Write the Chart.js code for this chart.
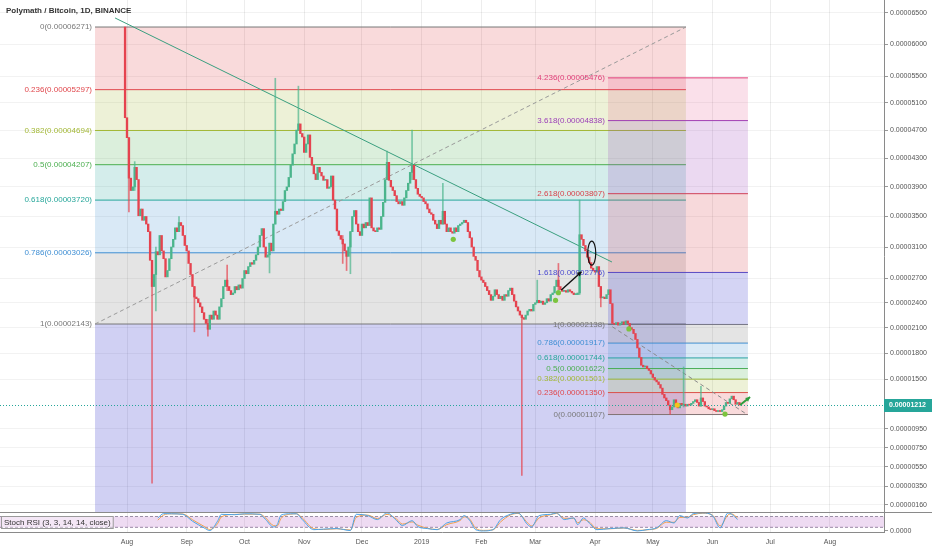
<!DOCTYPE html>
<html lang="en">
<head>
<meta charset="UTF-8">
<title>Polymath / Bitcoin, 1D, BINANCE</title>
<script src="https://cdn.jsdelivr.net/npm/chart.js"></script>
<style>
  html, body { margin: 0; padding: 0; background: #fff; }
</style>
</head>
<body>
<canvas id="chart" width="932" height="550"></canvas>
<script>
// prices are in satoshi (1e-8 BTC), days are counted from 2018-08-01
const firstDay = -1;
const firstOpen = 6271;
const closes = [
  4880, 4590, 4020, 3850, 3900, 4170, 4000, 3510, 3600, 3450,   // -1..8
  3500, 3400, 3300, 2930, 2600, 2750, 3040, 3000, 3250, 3050,   // 9..18
  2950, 2720, 2800, 2950, 3100, 3200, 3350, 3300, 3420, 3380,   // 19..28
  3250, 3120, 3050, 2890, 2750, 2600, 2470, 2450, 2400, 2350,   // 29..38
  2280, 2200, 2150, 2080, 2250, 2200, 2300, 2250, 2200, 2350,   // 39..48
  2450, 2600, 2680, 2600, 2550, 2500, 2520, 2600, 2560, 2620,   // 49..58
  2580, 2700, 2800, 2760, 2850, 2900, 2880, 2930, 3000, 3100,   // 59..68
  3250, 3340, 3100, 2970, 3000, 3150, 3050, 3400, 3570, 3530,   // 69..78
  3600, 3580, 3700, 3850, 3900, 4030, 4200, 4360, 4500, 4700,   // 79..88
  4790, 4650, 4600, 4380, 4500, 4630, 4310, 4200, 4080, 4000,   // 89..98
  4170, 4100, 4050, 3990, 4000, 3880, 3900, 4050, 3720, 3600,   // 99..108
  3310, 3250, 3200, 3140, 3050, 2980, 3100, 3300, 3500, 3580,   // 109..118
  3400, 3300, 3250, 3400, 3350, 3420, 3380, 3750, 3350, 3310,   // 119..128
  3300, 3350, 3330, 3500, 3690, 4000, 4240, 3990, 3900, 3850,   // 129..138
  3780, 3700, 3670, 3700, 3650, 3750, 3850, 3950, 4100, 4200,   // 139..148
  4000, 3880, 3800, 3770, 3750, 3700, 3670, 3600, 3550, 3530,   // 149..158
  3450, 3400, 3340, 3450, 3400, 3570, 3400, 3300, 3350, 3300,   // 159..168
  3280, 3350, 3300, 3380, 3400, 3420, 3450, 3420, 3300, 3220,   // 169..178
  3100, 2980, 2930, 2800, 2720, 2680, 2650, 2600, 2550, 2500,   // 179..188
  2430, 2480, 2560, 2500, 2450, 2480, 2430, 2500, 2480, 2550,   // 189..198
  2580, 2500, 2420, 2350, 2300, 2250, 2220, 2200, 2250, 2300,   // 199..208
  2320, 2300, 2380, 2400, 2430, 2400, 2420, 2380, 2400, 2450,   // 209..218
  2420, 2500, 2520, 2600, 2680, 2600, 2560, 2540, 2550, 2530,   // 219..228
  2560, 2540, 2520, 2500, 2500, 2520, 3260, 3200, 3120, 3050,   // 229..238
  2970, 2900, 2830, 2800, 2780, 2850, 2600, 2460, 2470, 2450,   // 239..248
  2500, 2560, 2390, 2150, 2140, 2160, 2130, 2150, 2170, 2140,   // 249..258
  2180, 2150, 2100, 2080, 2030, 1960, 1860, 1750, 1660, 1640,   // 259..268
  1650, 1620, 1600, 1560, 1520, 1490, 1470, 1440, 1400, 1330,   // 269..278
  1290, 1260, 1210, 1160, 1190, 1270, 1200, 1180, 1230, 1210,   // 279..288
  1220, 1200, 1220, 1210, 1230, 1250, 1270, 1240, 1200, 1290,   // 289..298
  1250, 1200, 1190, 1170, 1160, 1170, 1150, 1140, 1150, 1140,   // 299..308
  1160, 1200, 1240, 1230, 1280, 1310, 1270, 1220, 1240, 1212    // 309..318
];
// [day, high, low] for the wicks that show
const wicks = [
  [1, 4590, 3560], [4, 4250, 3850], [13, 2930, 380], [15, 3100, 2300],
  [27, 3500, 3300], [35, 2600, 2050], [42, 2200, 2000], [52, 2870, 2550],
  [74, 3150, 2770], [77, 5470, 3400], [89, 5350, 4700], [112, 3250, 2890],
  [114, 3050, 2800], [116, 3300, 2760], [135, 4400, 4000], [148, 4700, 4000],
  [164, 3950, 3400], [205, 2250, 460], [213, 2680, 2400], [224, 2890, 2560],
  [235, 3720, 2500], [246, 2600, 2350], [282, 1200, 1107], [289, 1640, 1190],
  [298, 1420, 1200]
];
const lastPrice = 1212;

const monthDays = [0, 31, 61, 92, 122, 153, 184, 212, 243, 273, 304, 334, 365];
const monthLabels = ['Aug', 'Sep', 'Oct', 'Nov', 'Dec', '2019', 'Feb', 'Mar', 'Apr', 'May', 'Jun', 'Jul', 'Aug'];
const priceTicks = [6500, 6000, 5500, 5100, 4700, 4300, 3900, 3500, 3100, 2700, 2400, 2100, 1800, 1500, 950, 750, 550, 350, 160];

const retrLevels = [0, 0.236, 0.382, 0.5, 0.618, 0.786, 1];
const retrPrices = [6271, 5297, 4694, 4207, 3720, 3026, 2143];
const extLevels = [0, 0.236, 0.382, 0.5, 0.618, 0.786, 1, 1.618, 2.618, 3.618, 4.236];
const extPrices = [1107, 1350, 1501, 1622, 1744, 1917, 2138, 2776, 3807, 4838, 5476];

const stochDays = [16, 19, 23, 29, 34, 40, 43, 47, 49, 56, 61, 69, 72, 76, 78, 80, 85, 88, 91, 97,
  102, 109, 116, 119, 125, 130, 135, 140, 143, 148, 151, 156, 161, 166, 173, 175, 178, 181, 185, 190,
  194, 199, 203, 208, 210, 214, 220, 223, 227, 232, 234, 237, 240, 244, 251, 258, 265, 270, 275, 280,
  284, 287, 291, 294, 299, 304, 308, 312, 314, 317];
const stochK = [72, 96, 95, 92, 54, 17, 2, 54, 92, 90, 95, 92, 63, 22, 35, 88, 95, 95, 63, 7,
  10, 13, 2, 92, 85, 63, 100, 57, 30, 57, 24, 13, 7, 44, 63, 85, 57, 7, 0, 7,
  63, 92, 100, 35, 22, 85, 92, 100, 63, 72, 35, 72, 44, 7, 13, 17, 0, 7, 17, 57,
  44, 85, 72, 96, 100, 85, 17, 100, 92, 63];
const stochD = [60, 88, 95, 94, 62, 25, 8, 40, 78, 92, 93, 93, 72, 30, 28, 70, 93, 95, 72, 12,
  8, 12, 5, 75, 88, 68, 92, 65, 38, 50, 32, 15, 8, 35, 58, 78, 65, 15, 3, 6,
  50, 88, 97, 45, 28, 72, 90, 97, 70, 70, 45, 62, 50, 12, 12, 16, 3, 6, 14, 48,
  48, 75, 76, 90, 98, 88, 28, 88, 94, 72];

// drawing spans (days) and anchor points
const retrSpan = [-16.6, 290.2];
const extSpan = [249.7, 322.4];
const trendLine = [[-6.2, 6417], [251.8, 2908]];
const extTrend = [[252, 2110], [322, 1107]];
const blackArrow = [[225.5, 2557], [236, 2786]];
const greenArrow = [[318.3, 1212], [323.5, 1300]];
const ellipseAt = [241.3, 3022];
const markers = [[169.4, 3200, '#7cc43e'], [224, 2524, '#7cc43e'], [222.5, 2430, '#7cc43e'],
  [260.6, 2084, '#7cc43e'], [285.7, 1212, '#f5c518'], [310.5, 1112, '#7cc43e']];

const xMin = -65.94, xMax = 393.04;
const yMin = 90, yMax = 6710;
const OFFSET = 10000;

const GREEN = '#4bb58c', RED = '#e5434f';
const lvlColor = {
  0: '#787878', 0.236: '#e0474c', 0.382: '#a3b837', 0.5: '#4caf50', 0.618: '#26a69a',
  0.786: '#3f8fd4', 1: '#787878', 1.618: '#4b4bd0', 2.618: '#d8434a', 3.618: '#9c40b8', 4.236: '#e0407a'
};

const fmt = v => (v / 1e8).toFixed(8);
const hexA = (hex, a) => {
  const n = parseInt(hex.slice(1), 16);
  return `rgba(${n >> 16},${(n >> 8) & 255},${n & 255},${a})`;
};

// price axis of the picture: log of (price + offset)
class PriceScale extends Chart.LinearScale {
  static id = 'price';
  configure() {
    super.configure();
    this._lo = Math.log(this.min + OFFSET);
    this._span = Math.log(this.max + OFFSET) - this._lo;
  }
  getPixelForValue(v) {
    return this.getPixelForDecimal((Math.log(v + OFFSET) - this._lo) / this._span);
  }
  getValueForPixel(p) {
    return Math.exp(this._lo + this.getDecimalForPixel(p) * this._span) - OFFSET;
  }
}
Chart.register(PriceScale);
Chart.defaults.font.family = '"Liberation Sans", Arial, sans-serif';

function seg(p0, p1, opts) {
  return Object.assign({
    type: 'line', yAxisID: 'y', pointRadius: 0, borderWidth: 1, fill: false,
    data: [{x: p0[0], y: p0[1]}, {x: p1[0], y: p1[1]}]
  }, opts);
}

const datasets = [];

// retracement: bands coloured by the lower level
retrPrices.forEach((p, i) => {
  const last = i === retrPrices.length - 1;
  const fillCol = last ? lvlColor[1.618] : lvlColor[retrLevels[i + 1]];
  datasets.push(seg([retrSpan[0], p], [retrSpan[1], p], {
    order: 20, borderColor: lvlColor[retrLevels[i]],
    fill: {value: last ? yMin : retrPrices[i + 1]},
    backgroundColor: hexA(fillCol, last ? 0.26 : 0.2)
  }));
});
datasets.push(seg([retrSpan[0], retrPrices[6]], [retrSpan[1], retrPrices[0]], {
  order: 18, borderColor: '#9a9a9a', borderDash: [4, 3]
}));

// extension: bands coloured by the upper level
for (let i = extPrices.length - 1; i >= 0; i--) {
  const c = lvlColor[extLevels[i]];
  datasets.push(seg([extSpan[0], extPrices[i]], [extSpan[1], extPrices[i]], {
    order: 19, borderColor: c,
    fill: i > 0 ? {value: extPrices[i - 1]} : false,
    backgroundColor: hexA(c, extLevels[i] === 1.618 ? 0.24 : (extLevels[i] === 4.236 ? 0.16 : 0.2))
  }));
}
datasets.push(seg(extTrend[0], extTrend[1], {order: 18, borderColor: '#8a8a8a', borderDash: [4, 3]}));

datasets.push(seg(trendLine[0], trendLine[1], {order: 3, borderColor: '#3a9f7f'}));

// candles
const opens = closes.map((c, i) => i ? closes[i - 1] : firstOpen);
const isUp = i => closes[i] >= opens[i];
datasets.push({
  type: 'bar', yAxisID: 'y', order: 2, grouped: false, barThickness: 1,
  data: wicks.map(w => ({x: w[0], y: [w[2], w[1]]})),
  backgroundColor: wicks.map(w => hexA(isUp(w[0] - firstDay) ? GREEN : RED, 0.7))
});
datasets.push({
  type: 'bar', yAxisID: 'y', order: 1, grouped: false, barThickness: 1.7, minBarLength: 1,
  data: closes.map((c, i) => ({x: firstDay + i, y: [opens[i], c]})),
  backgroundColor: closes.map((c, i) => isUp(i) ? GREEN : RED)
});

// stoch rsi pane
datasets.push({
  type: 'line', yAxisID: 'ys', order: 12, pointRadius: 0, borderWidth: 1,
  borderColor: '#9b8fa6', borderDash: [3, 2], fill: {value: 20},
  backgroundColor: 'rgba(156,39,176,0.17)',
  data: [{x: xMin, y: 80}, {x: xMax, y: 80}]
});
datasets.push({
  type: 'line', yAxisID: 'ys', order: 12, pointRadius: 0, borderWidth: 1,
  borderColor: '#9b8fa6', borderDash: [3, 2], fill: false,
  data: [{x: xMin, y: 20}, {x: xMax, y: 20}]
});
datasets.push({
  type: 'line', yAxisID: 'ys', order: 1, pointRadius: 0, borderWidth: 1, fill: false,
  borderColor: '#f0a050', cubicInterpolationMode: 'monotone',
  data: stochDays.map((d, i) => ({x: d, y: stochD[i]}))
});
datasets.push({
  type: 'line', yAxisID: 'ys', order: 0, pointRadius: 0, borderWidth: 1, fill: false,
  borderColor: '#4aa3e8', cubicInterpolationMode: 'monotone',
  data: stochDays.map((d, i) => ({x: d, y: stochK[i]}))
});

function arrow(ctx, x0, y0, x1, y1, color, w, head) {
  ctx.strokeStyle = color; ctx.fillStyle = color; ctx.lineWidth = w;
  ctx.beginPath(); ctx.moveTo(x0, y0); ctx.lineTo(x1, y1); ctx.stroke();
  const a = Math.atan2(y1 - y0, x1 - x0);
  ctx.beginPath(); ctx.moveTo(x1, y1);
  ctx.lineTo(x1 - head * Math.cos(a - 0.5), y1 - head * Math.sin(a - 0.5));
  ctx.lineTo(x1 - head * Math.cos(a + 0.5), y1 - head * Math.sin(a + 0.5));
  ctx.closePath(); ctx.fill();
}

const overlay = {
  id: 'overlay',
  beforeDraw(chart) {
    const {ctx, width, height} = chart;
    ctx.save(); ctx.fillStyle = '#fff'; ctx.fillRect(0, 0, width, height); ctx.restore();
  },
  afterDatasetsDraw(chart) {
    const {ctx, chartArea: area, scales: {x, y}} = chart;
    const px = d => x.getPixelForValue(d);
    const py = v => y.getPixelForValue(v);
    ctx.save();

    // last price line
    const ly = Math.round(py(lastPrice)) + 0.5;
    ctx.strokeStyle = '#26a69a'; ctx.lineWidth = 1; ctx.setLineDash([1, 2]);
    ctx.beginPath(); ctx.moveTo(area.left, ly); ctx.lineTo(area.right, ly); ctx.stroke();
    ctx.setLineDash([]);

    // fib labels
    ctx.font = '8px "Liberation Sans", Arial, sans-serif';
    ctx.textAlign = 'right'; ctx.textBaseline = 'middle';
    retrLevels.forEach((l, i) => {
      ctx.fillStyle = lvlColor[l];
      ctx.fillText(`${l}(${fmt(retrPrices[i])})`, px(retrSpan[0]) - 3, py(retrPrices[i]));
    });
    extLevels.forEach((l, i) => {
      ctx.fillStyle = lvlColor[l];
      ctx.fillText(`${l}(${fmt(extPrices[i])})`, px(extSpan[0]) - 3, py(extPrices[i]));
    });

    // drawings
    markers.forEach(m => {
      ctx.fillStyle = m[2];
      ctx.beginPath(); ctx.arc(px(m[0]), py(m[1]), 2.6, 0, Math.PI * 2); ctx.fill();
    });
    arrow(ctx, px(blackArrow[0][0]), py(blackArrow[0][1]), px(blackArrow[1][0]), py(blackArrow[1][1]), '#111', 1.4, 5);
    arrow(ctx, px(greenArrow[0][0]), py(greenArrow[0][1]), px(greenArrow[1][0]), py(greenArrow[1][1]), '#2e9e3e', 2, 5);
    ctx.strokeStyle = '#111'; ctx.lineWidth = 1.2;
    ctx.beginPath(); ctx.ellipse(px(ellipseAt[0]), py(ellipseAt[1]), 4, 12, 0, 0, Math.PI * 2); ctx.stroke();

    // pane separator
    ctx.strokeStyle = '#8a8a8a'; ctx.lineWidth = 1;
    const sy = Math.round(y.bottom) + 0.5;
    ctx.beginPath(); ctx.moveTo(0, sy); ctx.lineTo(chart.width, sy); ctx.stroke();

    // stoch label
    ctx.font = '8px "Liberation Sans", Arial, sans-serif';
    ctx.textAlign = 'left';
    const label = 'Stoch RSI (3, 3, 14, 14, close)';
    const lw = ctx.measureText(label).width;
    ctx.fillStyle = 'rgba(255,255,255,0.35)';
    ctx.fillRect(1.5, 516.5, lw + 5, 12);
    ctx.strokeStyle = '#9a9a9a';
    ctx.strokeRect(1.5, 516.5, lw + 5, 12);
    ctx.fillStyle = '#333';
    ctx.fillText(label, 4, 523);

    // last price tag on the axis
    ctx.fillStyle = '#26a69a';
    ctx.fillRect(area.right, ly - 6.5, chart.width - area.right, 13);
    ctx.fillStyle = '#fff';
    ctx.font = 'bold 7px "Liberation Sans", Arial, sans-serif';
    ctx.fillText(fmt(lastPrice), area.right + 5, ly);

    // title
    ctx.fillStyle = '#333';
    ctx.font = 'bold 8px "Liberation Sans", Arial, sans-serif';
    ctx.fillText('Polymath / Bitcoin, 1D, BINANCE', 6, 11);
    ctx.restore();
  }
};

const noPad = s => { s.paddingTop = 0; s.paddingBottom = 0; s.paddingLeft = 0; s.paddingRight = 0; };

new Chart(document.getElementById('chart'), {
  type: 'bar',
  data: {datasets},
  options: {
    responsive: false,
    animation: false,
    events: [],
    layout: {padding: 0},
    plugins: {legend: {display: false}, tooltip: {enabled: false}},
    scales: {
      x: {
        type: 'linear', position: 'bottom', min: xMin, max: xMax, offset: false,
        afterBuildTicks: s => { s.ticks = monthDays.map(v => ({value: v})); },
        afterFit: s => { s.height = 18; noPad(s); },
        ticks: {
          callback: (v, i) => monthLabels[i], autoSkip: false, maxRotation: 0,
          font: {size: 7}, color: '#555', padding: 6
        },
        grid: {offset: false, color: 'rgba(0,0,0,0.07)', drawTicks: false},
        border: {color: '#8a8a8a'}
      },
      y: {
        type: 'price', position: 'right', stack: 'pane', stackWeight: 512,
        min: yMin, max: yMax,
        afterBuildTicks: s => { s.ticks = priceTicks.map(v => ({value: v})); },
        afterFit: s => { s.width = 48; noPad(s); },
        ticks: {callback: v => fmt(v), autoSkip: false, font: {size: 7}, color: '#555', padding: 2},
        grid: {color: 'rgba(0,0,0,0.05)', tickLength: 4, tickColor: '#999'},
        border: {color: '#8a8a8a'}
      },
      ys: {
        type: 'linear', position: 'right', stack: 'pane', stackWeight: 20,
        min: -6, max: 105,
        afterBuildTicks: s => { s.ticks = [{value: 0}]; },
        afterFit: s => { s.width = 48; noPad(s); },
        ticks: {callback: () => '0.0000', font: {size: 7}, color: '#555', padding: 2},
        grid: {drawOnChartArea: false, tickLength: 4, tickColor: '#999'},
        border: {color: '#8a8a8a'}
      }
    }
  },
  plugins: [overlay]
});
</script>
</body>
</html>
